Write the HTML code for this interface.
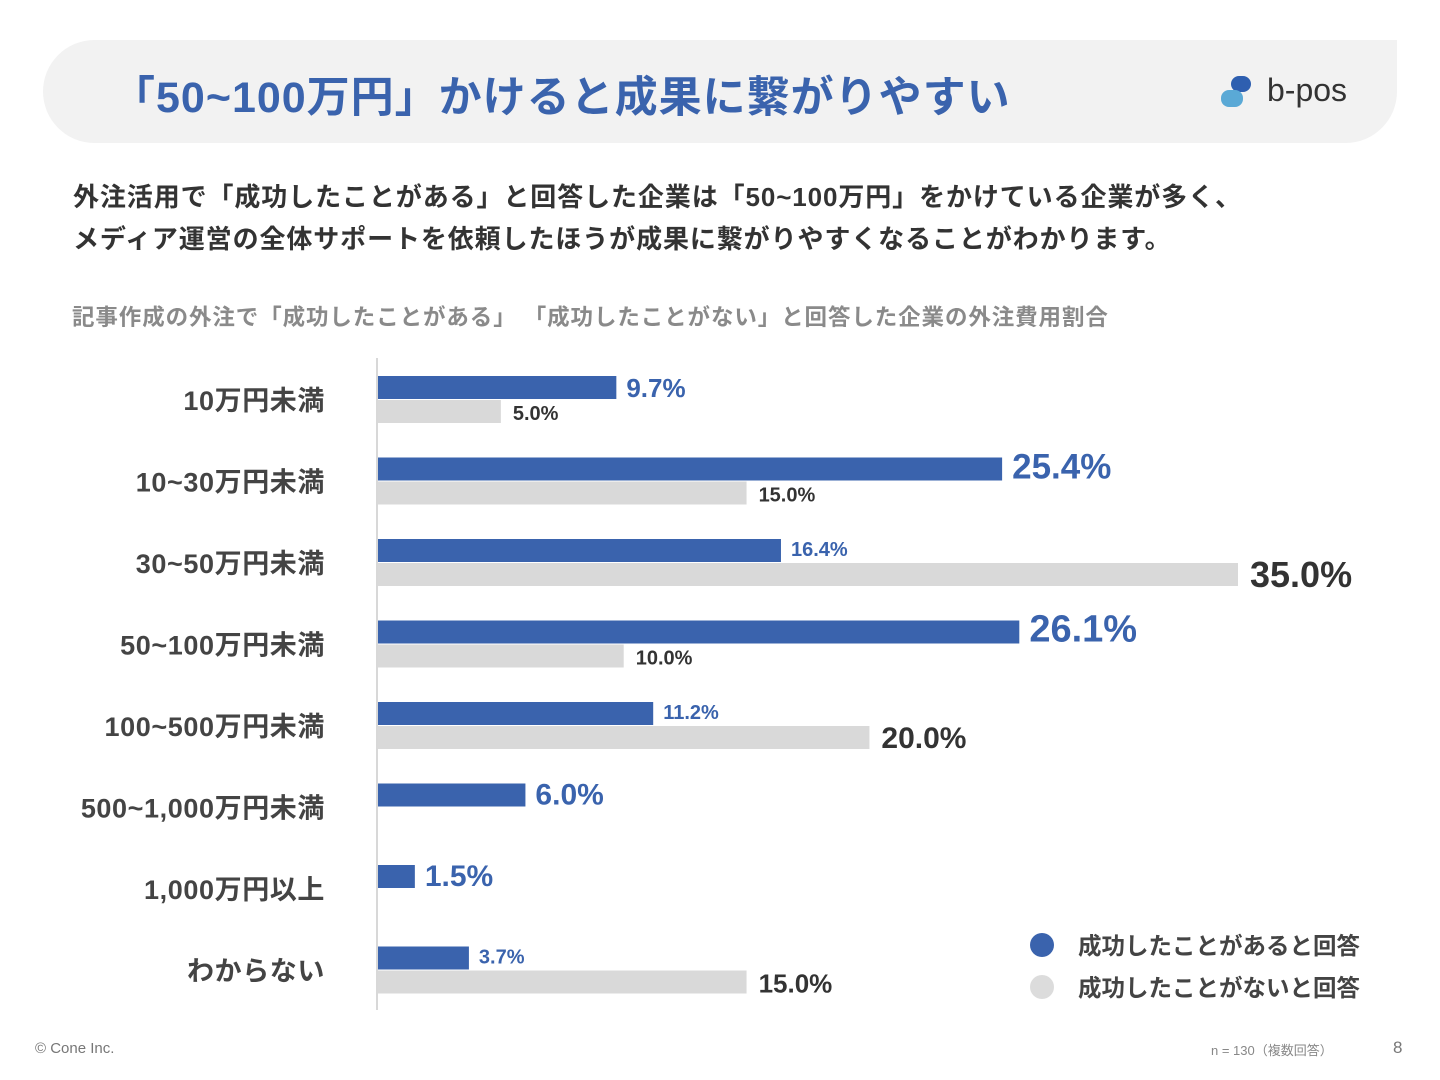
<!DOCTYPE html>
<html><head><meta charset="utf-8">
<style>
body{margin:0;width:1440px;height:1080px;background:#fff;font-family:"Liberation Sans","Noto Sans CJK JP",sans-serif;position:relative;overflow:hidden}
.hdr{position:absolute;left:43px;top:40px;width:1354px;height:103px;background:#f2f2f2;border-radius:52px 0 52px 52px}
.title{position:absolute;left:112px;top:63px;font-size:43px;font-weight:bold;color:#3a63ad;letter-spacing:1px}
.lead{position:absolute;left:73px;top:176px;font-size:26px;font-weight:bold;color:#333;line-height:42px;letter-spacing:0.9px}
.sub{position:absolute;left:72px;top:300px;font-size:22.5px;font-weight:bold;color:#8a8a8a;letter-spacing:0.9px}
.abs{position:absolute}
</style></head><body>
<div class="hdr"></div>
<div class="title">「50~100万円」かけると成果に繋がりやすい</div>
<div class="abs" style="left:1220px;top:74px;width:140px;height:40px">
<svg width="40" height="40"><rect x="11" y="2" width="20" height="16" rx="8" fill="#2e5fb0"/><rect x="1" y="16" width="22" height="17" rx="8" fill="#5aa9d6"/></svg>
<span style="position:absolute;left:47px;top:-2px;font-size:32px;color:#333">b-pos</span></div>
<div class="lead">外注活用で「成功したことがある」と回答した企業は「50~100万円」をかけている企業が多く、<br>メディア運営の全体サポートを依頼したほうが成果に繋がりやすくなることがわかります。</div>
<div class="sub">記事作成の外注で「成功したことがある」 「成功したことがない」と回答した企業の外注費用割合</div>
<svg id="chart" class="abs" style="left:0;top:0" width="1440" height="1080"></svg>
<div class="abs" style="left:35px;top:1040px;font-size:15px;color:#777">© Cone Inc.</div>
<div class="abs" style="left:1211px;top:1040px;font-size:13px;color:#888">n = 130（複数回答）</div>
<div class="abs" style="left:1393px;top:1038px;font-size:17px;color:#777">8</div>
<script>
const categories=["10万円未満","10~30万円未満","30~50万円未満","50~100万円未満","100~500万円未満","500~1,000万円未満","1,000万円以上","わからない"];
const successVals=[9.7,25.4,16.4,26.1,11.2,6.0,1.5,3.7];
const failVals=[5.0,15.0,35.0,10.0,20.0,null,null,15.0];
const successSizes=[26,35,20,38,20,30,30,20];
const failSizes=[20,20,36,20,30,0,0,26];
const NS="http://www.w3.org/2000/svg";
const svg=document.getElementById('chart');
const x0=378, pxPer=860/35;
const xs=v=>x0+v*pxPer;
const rowY=i=>376+i*81.5;
function mk(t,a){const e=document.createElementNS(NS,t);for(const k in a)e.setAttribute(k,a[k]);svg.appendChild(e);return e;}
const ax=mk('line',{x1:377,y1:358,x2:377,y2:1010,stroke:'#ccc','stroke-width':1.5});


categories.forEach((c,i)=>{
 const y=rowY(i);
 const t=mk('text',{x:325,y:y+34,'text-anchor':'end','font-size':27,'font-weight':'bold',fill:'#444','letter-spacing':'0.6'});
 t.textContent=c;
 
 
 const v=successVals[i];
 const b=mk('rect',{x:x0,y:y,width:xs(v)-x0,height:23,fill:'#3a63ad'});
 
 
 const s=successSizes[i];
 const l=mk('text',{x:xs(v)+10,y:y+21-(s>24?0:4),'font-size':s,'font-weight':'bold',fill:'#3a63ad'});
 l.textContent=v.toFixed(1)+'%';
 
 
 const f=failVals[i];
 if(f!==null){
  const g=mk('rect',{x:x0,y:y+24,width:xs(f)-x0,height:23,fill:'#d9d9d9'});
  
  
  const fs=failSizes[i];
  const gl=mk('text',{x:xs(f)+12,y:y+24+(fs>24?22:20)+(fs>30?2:0),'font-size':fs,'font-weight':'bold',fill:'#333'});
  gl.textContent=f.toFixed(1)+'%';
  
  
 }
});
[['成功したことがあると回答','#3a63ad',945],['成功したことがないと回答','#dcdcdc',987]].forEach(([t,c,y])=>{
 const d=mk('circle',{cx:1042,cy:y,r:12,fill:c});
 
 
 const tx=mk('text',{x:1078,y:y+9,'font-size':23.5,'font-weight':'bold',fill:'#444'});
 tx.textContent=t;
 
 
});
</script>
</body></html>
